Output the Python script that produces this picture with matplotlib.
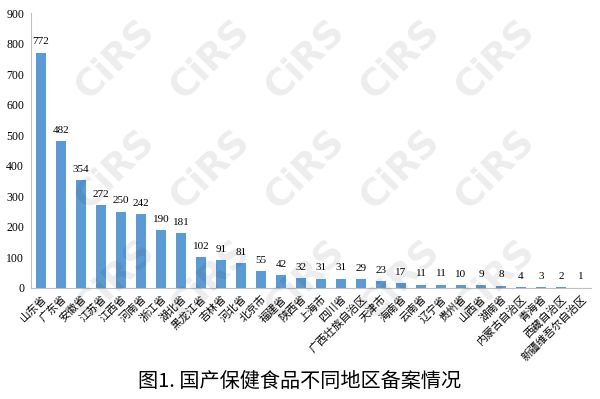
import matplotlib
matplotlib.use("Agg")
import matplotlib.pyplot as plt

provinces = ["山东省", "广东省", "安徽省", "江苏省", "江西省", "河南省", "浙江省", "湖北省",
             "黑龙江省", "吉林省", "河北省", "北京市", "福建省", "陕西省", "上海市", "四川省",
             "广西壮族自治区", "天津市", "海南省", "云南省", "辽宁省", "贵州省", "山西省", "湖南省",
             "内蒙古自治区", "青海省", "西藏自治区", "新疆维吾尔自治区"]
values = [772, 482, 354, 272, 250, 242, 190, 181, 102, 91, 81, 55, 42, 32, 31, 31,
          29, 23, 17, 11, 11, 10, 9, 8, 4, 3, 2, 1]
yticks = [0, 100, 200, 300, 400, 500, 600, 700, 800, 900]
title = "图1. 国产保健食品不同地区备案情况"

serif = ["Liberation Serif", "DejaVu Serif"]
cjk = ["Noto Sans CJK SC", "DejaVu Sans"]

fig = plt.figure(figsize=(6.0, 3.99), dpi=100)
ax = fig.add_axes([31/600, 1-288/399, (591-31)/600, (288-13.5)/399])

n = len(values)
x = list(range(n))
ax.bar(x, values, width=0.52, color="#5B9BD5", zorder=3)
for xi, v in zip(x, values):
    ax.annotate(str(v), (xi, v), xytext=(0, 4.5), textcoords="offset points",
                ha="center", va="bottom", fontsize=8, family=serif,
                color="#000000", zorder=4)

ax.set_xlim(-0.5, n - 0.5)
ax.set_ylim(0, 900)
ax.set_yticks(yticks)
ax.set_yticklabels([str(t) for t in yticks], family=serif, fontsize=8.5)
ax.set_xticks(x)
ax.set_xticklabels(provinces, rotation=45, ha="right", va="top",
                   rotation_mode="anchor", family=cjk, fontsize=7.8)
ax.tick_params(axis="both", length=0)
ax.tick_params(axis="y", pad=5)
ax.tick_params(axis="x", pad=4)
for s in ["top", "right"]:
    ax.spines[s].set_visible(False)
for s in ["left", "bottom"]:
    ax.spines[s].set_color("#BFBFBF")
    ax.spines[s].set_linewidth(0.8)

# watermark
for wy in [60, 170, 280]:
    for wx in [115, 210, 305, 400, 495]:
        fig.text(wx/600, 1 - wy/399, "CiRS", fontsize=27, fontweight="bold",
                 color="#000000", alpha=0.075, rotation=45, ha="center",
                 va="center", family="DejaVu Sans", zorder=10)

fig.text(0.5, 1 - 381/399, title, ha="center", va="center", fontsize=14.5,
         family=cjk, color="#000000")

fig.savefig("out.png", dpi=100)
